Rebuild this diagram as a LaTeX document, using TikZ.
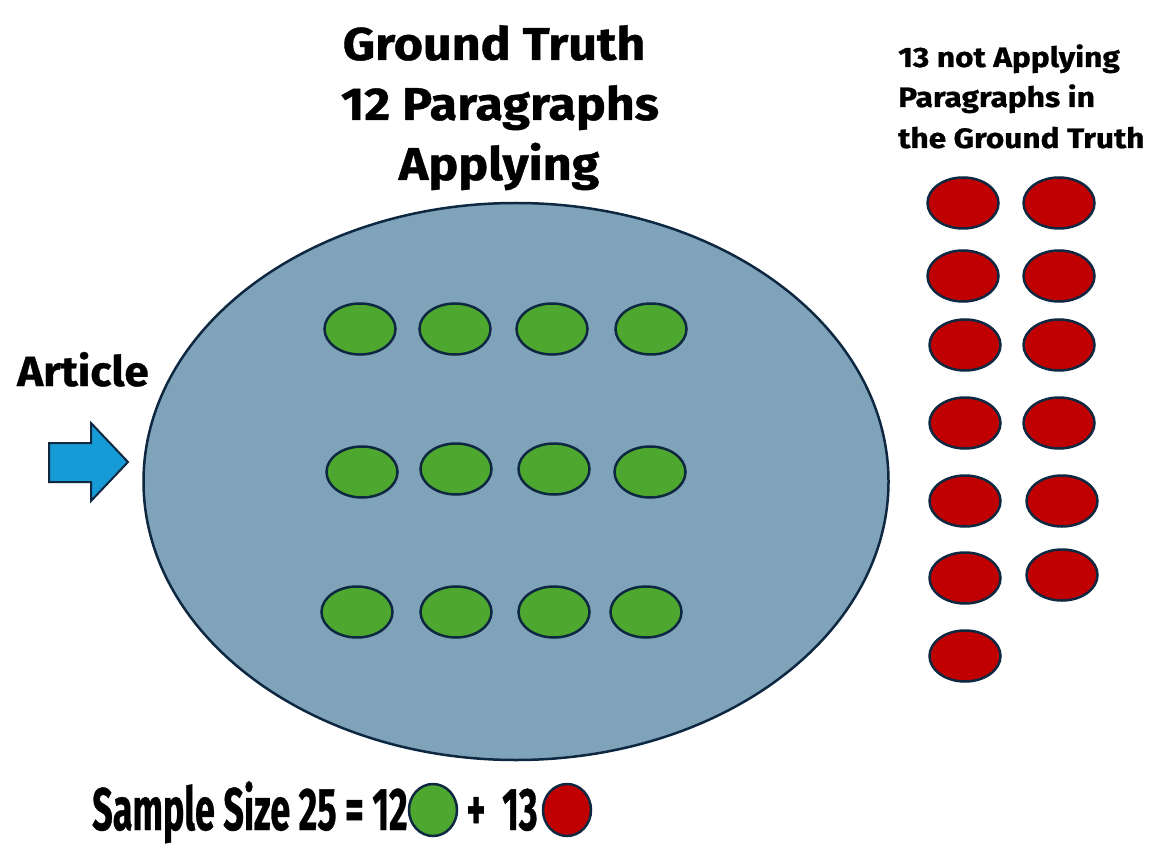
\documentclass[tikz,border=0pt]{standalone}
\usepackage{fontspec}
\setmainfont{Fira Sans}[BoldFeatures={FakeBold=0.8}]
\usetikzlibrary{shapes.geometric}

\definecolor{seablue}{HTML}{7FA3B8}
\definecolor{paragreen}{HTML}{4EA72E}
\definecolor{parared}{HTML}{C00000}
\definecolor{inkblue}{HTML}{0E2841}
\definecolor{arrowblue}{HTML}{169BD7}

\newcommand{\widetext}[2]{\scalebox{#1}[1]{#2}}

\tikzset{
  para/.style={ellipse, draw=inkblue, line width=2.5pt, minimum width=71pt, minimum height=51pt, inner sep=0pt},
  applying/.style={para, fill=paragreen},
  notapplying/.style={para, fill=parared},
  bigtext/.style={font=\fontsize{46}{46}\selectfont\bfseries, inner sep=0pt, anchor=base},
  sidetext/.style={font=\fontsize{28}{28}\selectfont\bfseries, inner sep=0pt, anchor=base west},
  sumtext/.style={font=\fontsize{60}{60}\selectfont\bfseries, inner sep=0pt}
}

\begin{document}
\begin{tikzpicture}[x=1pt, y=-1pt]
      \useasboundingbox (0,0) rectangle (1158,858);

      % ground truth
      \node[ellipse, draw=inkblue, line width=2.5pt, fill=seablue, minimum width=745pt, minimum height=557pt, inner sep=0pt] (truth) at (516,481.5) {};
      \node[bigtext] (title1) at (494,60) {\widetext{1.09}{Ground Truth}};
      \node[bigtext] (title2) at (500,120) {\widetext{1.09}{12 Paragraphs}};
      \node[bigtext] (title3) at (499,180) {\widetext{1.09}{Applying}};

      % article arrow
      \node[font=\fontsize{42}{42}\selectfont\bfseries, inner sep=0pt, anchor=base west] (article) at (17,386) {\widetext{1.05}{Article}};
      \draw[draw=inkblue, line width=2pt, fill=arrowblue, line join=miter]
        (49,443) -- (91,443) -- (91,423) -- (128,462) -- (91,501) -- (91,482) -- (49,482) -- cycle;

      % applying paragraphs
      \node[applying] (g11) at (360,329) {};
      \node[applying] (g12) at (455,329) {};
      \node[applying] (g13) at (552,329) {};
      \node[applying] (g14) at (651,329) {};

      \node[applying] (g21) at (362,472) {};
      \node[applying] (g22) at (456,469) {};
      \node[applying] (g23) at (554,469) {};
      \node[applying] (g24) at (650,472) {};

      \node[applying] (g31) at (357,612) {};
      \node[applying] (g32) at (456,612) {};
      \node[applying] (g33) at (554,612) {};
      \node[applying] (g34) at (646,612) {};

      % not applying paragraphs
      \node[sidetext] (side1) at (898,67) {\widetext{1.13}{13 not Applying}};
      \node[sidetext] (side2) at (898,107) {\widetext{1.13}{Paragraphs in}};
      \node[sidetext] (side3) at (898,148) {\widetext{1.13}{the Ground Truth}};

      \node[notapplying] (r11) at (963,203) {};
      \node[notapplying] (r12) at (1059,203) {};
      \node[notapplying] (r21) at (963,276) {};
      \node[notapplying] (r22) at (1059,276) {};
      \node[notapplying] (r31) at (965,345) {};
      \node[notapplying] (r32) at (1059,345) {};
      \node[notapplying] (r41) at (965,423) {};
      \node[notapplying] (r42) at (1059,423) {};
      \node[notapplying] (r51) at (965,501) {};
      \node[notapplying] (r52) at (1062,501) {};
      \node[notapplying] (r61) at (965,578) {};
      \node[notapplying] (r62) at (1062,575) {};
      \node[notapplying] (r71) at (965,656) {};

      % sample size
      \node[sumtext, anchor=base west] (sample) at (92,830) {\widetext{0.6}{Sample Size 25 = 12}};
      \node[applying, minimum width=48pt, minimum height=52pt] (gkey) at (433,810) {};
      \node[sumtext, anchor=base] (plus) at (476,830) {\widetext{0.6}{+}};
      \node[sumtext, anchor=base west] (thirteen) at (502,830) {\widetext{0.6}{13}};
      \node[notapplying, minimum width=48pt, minimum height=52pt] (rkey) at (567,810) {};
    \end{tikzpicture}
\end{document}
